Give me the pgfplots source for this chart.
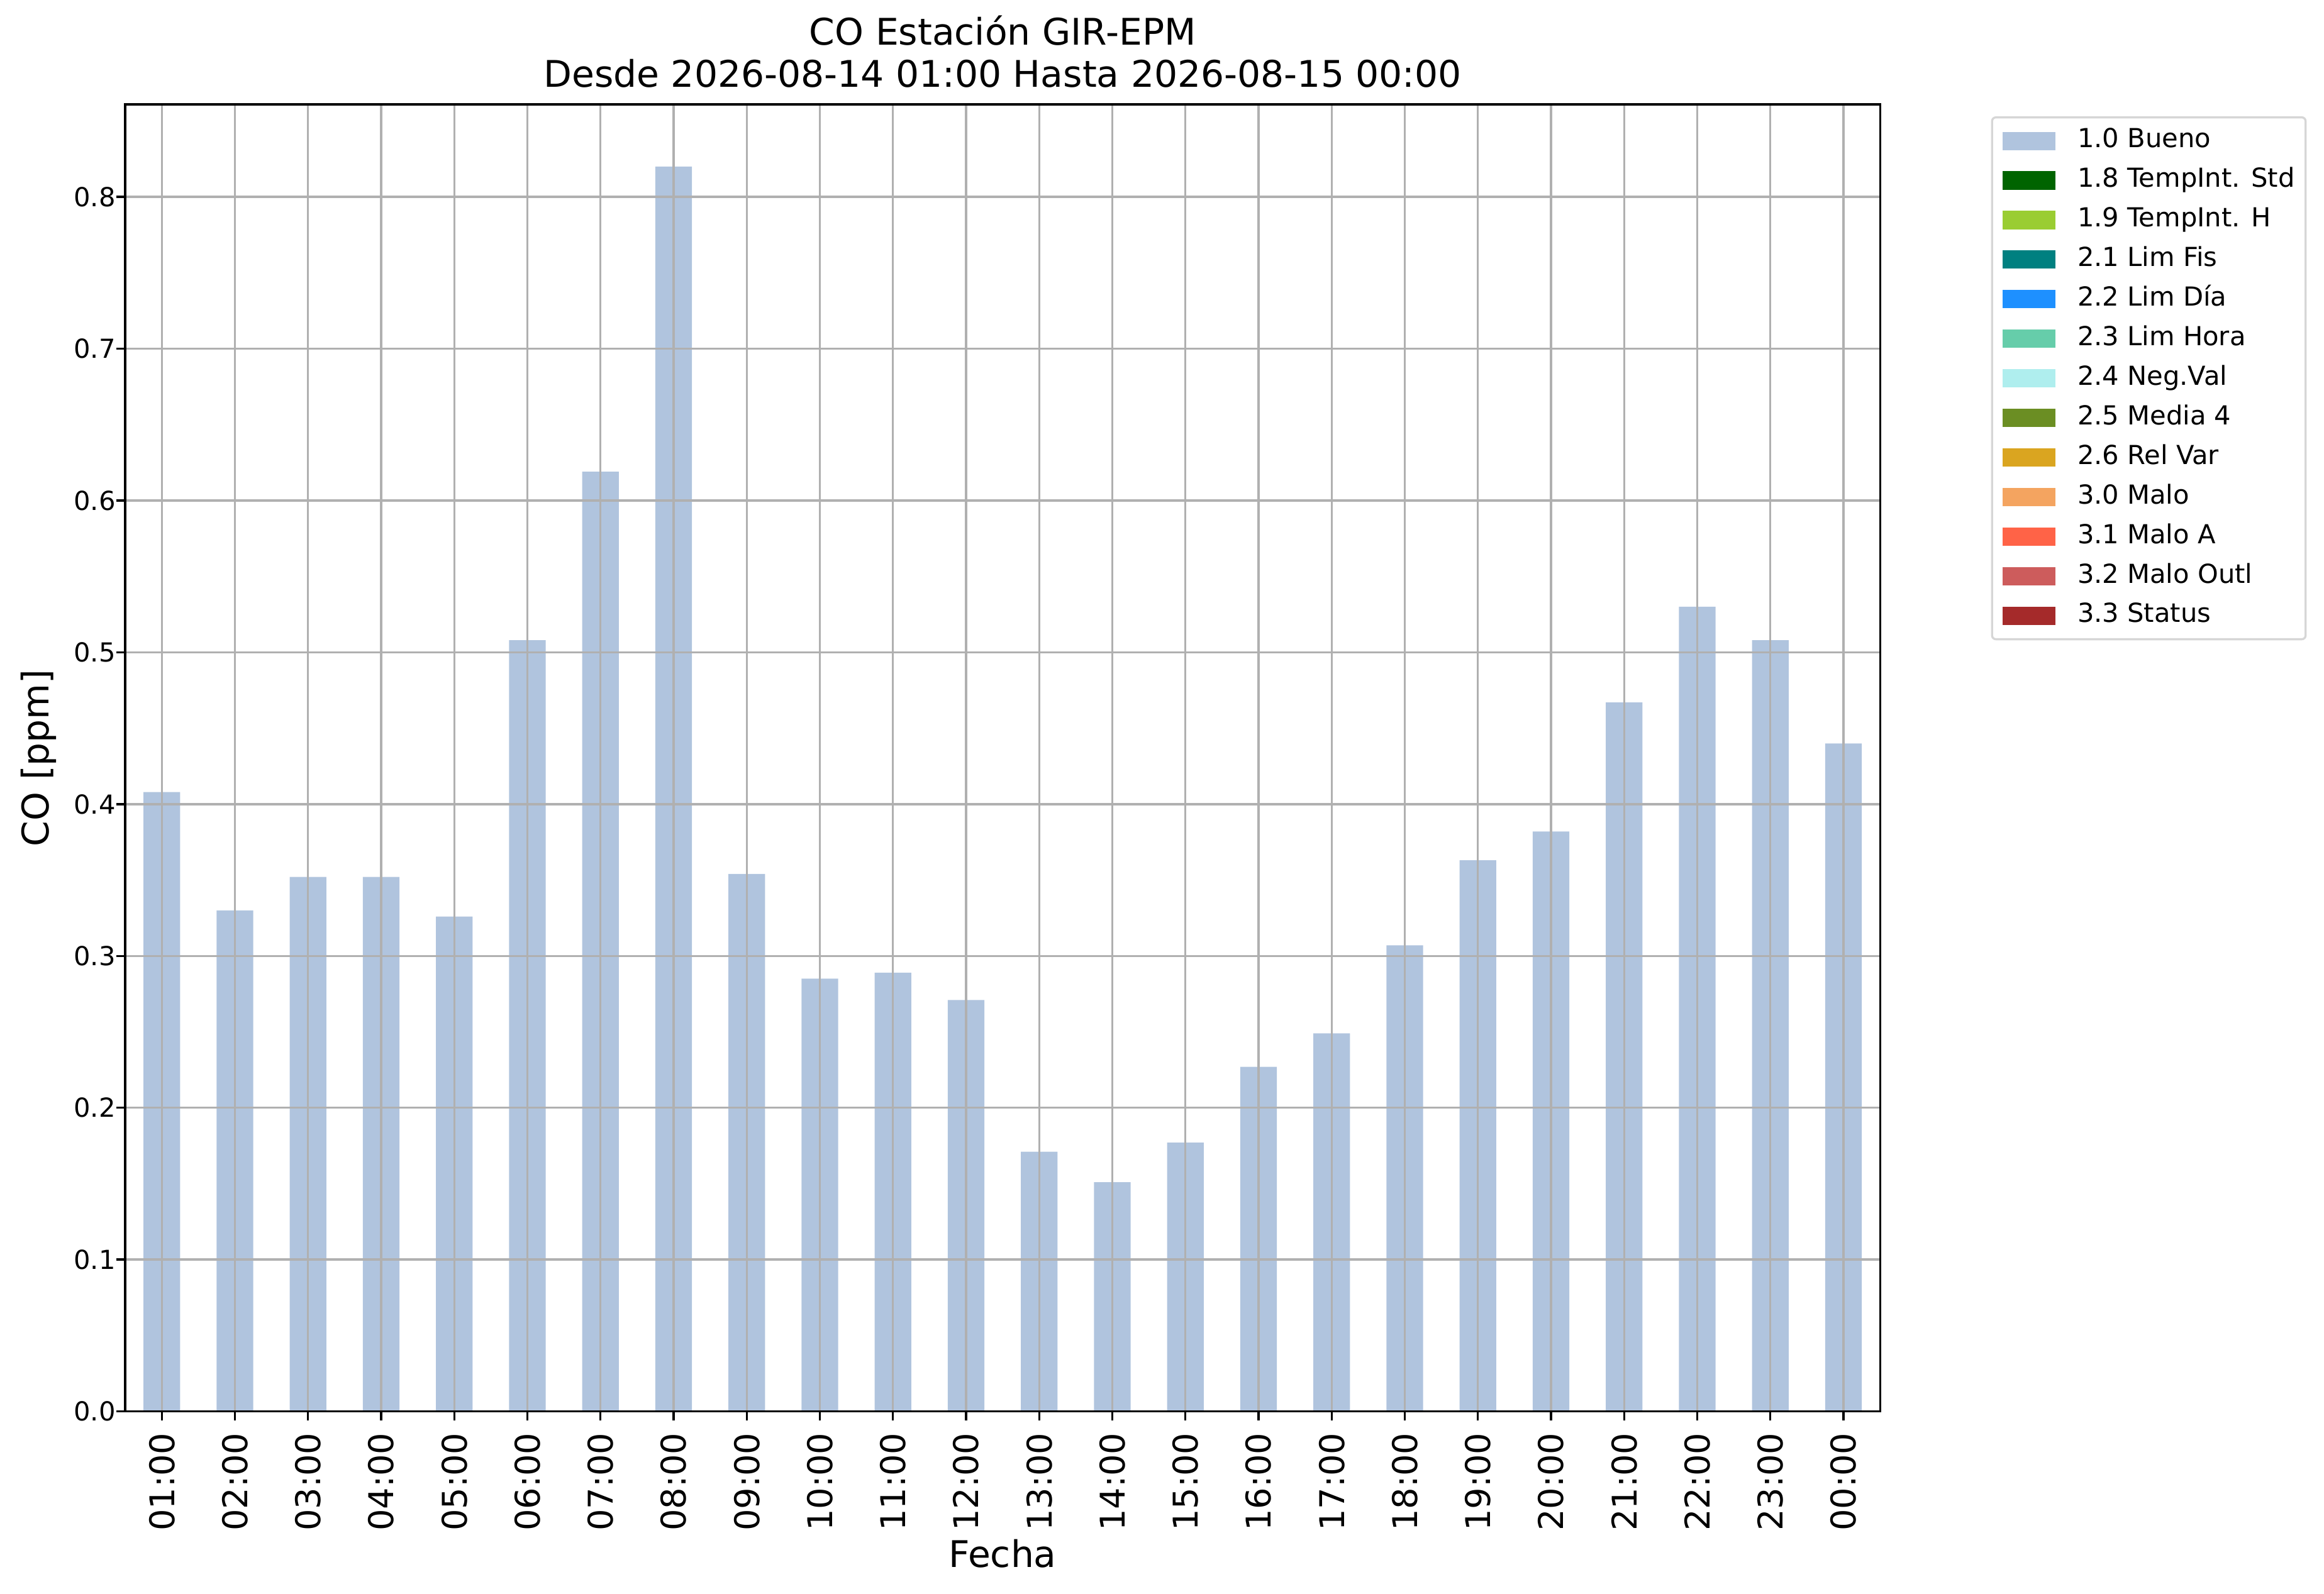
\documentclass[border=0pt]{standalone}
\usepackage{pgfplots}
\pgfplotsset{compat=1.18}
\usepackage{fontspec}
\setmainfont{DejaVu Sans}
\definecolor{c10}{RGB}{176,196,222}
\definecolor{c18}{RGB}{0,100,0}
\definecolor{c19}{RGB}{154,205,50}
\definecolor{c21}{RGB}{0,128,128}
\definecolor{c22}{RGB}{30,144,255}
\definecolor{c23}{RGB}{102,205,170}
\definecolor{c24}{RGB}{175,238,238}
\definecolor{c25}{RGB}{107,142,35}
\definecolor{c26}{RGB}{218,165,32}
\definecolor{c30}{RGB}{244,164,96}
\definecolor{c31}{RGB}{255,99,71}
\definecolor{c32}{RGB}{205,92,92}
\definecolor{c33}{RGB}{165,42,42}
\definecolor{gridc}{RGB}{176,176,176}
\definecolor{legc}{RGB}{214,214,214}
\pgfplotsset{mybox/.style={legend image code/.code={\fill[##1, sharp corners] (0pt,-3.5pt) rectangle (20.2pt,3.5pt);}}}
\begin{document}
\begin{tikzpicture}
\begin{axis}[
  width=669.6pt, height=498.9pt, scale only axis,
  xmin=-0.5, xmax=23.5, ymin=0, ymax=0.861,
  axis on top,
  axis line style={black, line width=0.8pt},
  grid=major,
  grid style={gridc, line width=0.8pt},
  tick align=outside, tick pos=left,
  major tick length=3.5pt,
  tick style={black, line width=0.8pt},
  xtick={0,1,2,3,4,5,6,7,8,9,10,11,12,13,14,15,16,17,18,19,20,21,22,23},
  xticklabels={01:00,02:00,03:00,04:00,05:00,06:00,07:00,08:00,09:00,10:00,11:00,12:00,13:00,14:00,15:00,16:00,17:00,18:00,19:00,20:00,21:00,22:00,23:00,00:00},
  ytick={0,0.1,0.2,0.3,0.4,0.5,0.6,0.7,0.8},
  yticklabels={0.0,0.1,0.2,0.3,0.4,0.5,0.6,0.7,0.8},
  xticklabel style={font=\fontsize{13}{15}\selectfont, yshift=-4.5pt, rotate=90, anchor=east, inner sep=0pt},
  yticklabel style={font=\fontsize{10}{12}\selectfont, anchor=east, inner sep=0pt},
  title={CO Estación GIR-EPM\\Desde 2026-08-14 01:00 Hasta 2026-08-15 00:00},
  title style={font=\fontsize{14}{16.1}\selectfont, align=center, at={(axis description cs:0.5,1)}, anchor=south, inner sep=0pt, yshift=0.2pt},
  xlabel={Fecha},
  xlabel style={font=\fontsize{14}{16}\selectfont, at={(axis description cs:0.5,-0.11906)}, anchor=base, inner sep=0pt},
  ylabel={CO [ppm]},
  ylabel style={font=\fontsize{14}{16}\selectfont, at={(axis description cs:-0.04376,0.5)}, rotate=0, anchor=base, inner sep=0pt},
  legend style={at={(1.0638,0.990)}, anchor=north west, draw=legc, line width=0.8pt, rounded corners=1.5pt, fill=white,
    font=\fontsize{10}{12}\selectfont, inner xsep=4.1pt, inner ysep=4pt, outer sep=0pt,
    row sep=5.1pt, column sep=8.3pt,
    nodes={inner sep=0pt, text height=7.6pt, text depth=2.4pt}},
  legend cell align=left,
]
\addplot[ybar, bar width=0.5, bar shift=0pt, fill=c10, draw=none, mybox] coordinates {
 (0,0.408) (1,0.330) (2,0.352) (3,0.352) (4,0.326) (5,0.508) (6,0.619) (7,0.820)
 (8,0.354) (9,0.285) (10,0.289) (11,0.271) (12,0.171) (13,0.151) (14,0.177) (15,0.227)
 (16,0.249) (17,0.307) (18,0.363) (19,0.382) (20,0.467) (21,0.530) (22,0.508) (23,0.440)
};
\addlegendentry{1.0 Bueno}
\addlegendimage{fill=c18, draw=none, mybox}\addlegendentry{1.8 TempInt. Std}
\addlegendimage{fill=c19, draw=none, mybox}\addlegendentry{1.9 TempInt. H}
\addlegendimage{fill=c21, draw=none, mybox}\addlegendentry{2.1 Lim Fis}
\addlegendimage{fill=c22, draw=none, mybox}\addlegendentry{2.2 Lim Día}
\addlegendimage{fill=c23, draw=none, mybox}\addlegendentry{2.3 Lim Hora}
\addlegendimage{fill=c24, draw=none, mybox}\addlegendentry{2.4 Neg.Val}
\addlegendimage{fill=c25, draw=none, mybox}\addlegendentry{2.5 Media 4}
\addlegendimage{fill=c26, draw=none, mybox}\addlegendentry{2.6 Rel Var}
\addlegendimage{fill=c30, draw=none, mybox}\addlegendentry{3.0 Malo}
\addlegendimage{fill=c31, draw=none, mybox}\addlegendentry{3.1 Malo A}
\addlegendimage{fill=c32, draw=none, mybox}\addlegendentry{3.2 Malo Outl}
\addlegendimage{fill=c33, draw=none, mybox}\addlegendentry{3.3 Status}
\end{axis}
\pgfresetboundingbox
\path[use as bounding box] (-47.8pt,-69.5pt) rectangle (839pt,538.7pt);
\end{tikzpicture}
\end{document}
